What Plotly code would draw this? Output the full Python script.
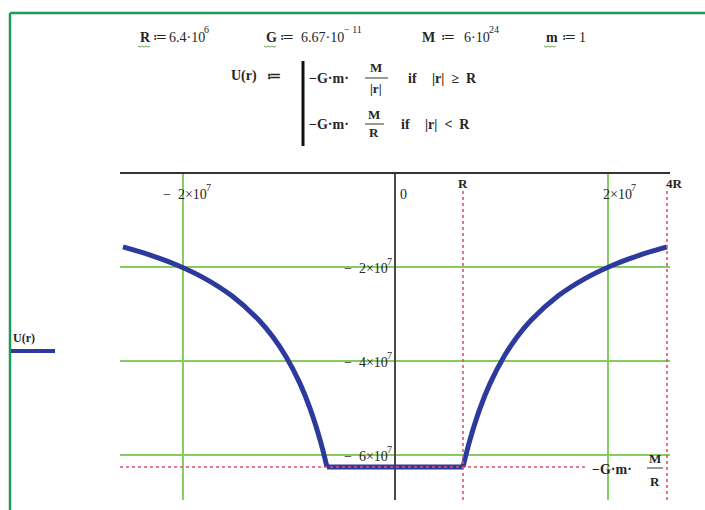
import plotly.graph_objects as go

# Constants shown in the worksheet header
R = 6.4e6
G = 6.67e-11
M = 6e24
m = 1

# Potential energy U(r): outer branches (|r| >= R) and the flat inner part
r_left = [-2.56e7, -2.304e7, -2.048e7, -1.792e7, -1.536e7, -1.28e7,
          -1.152e7, -1.024e7, -8.96e6, -8.0e6, -7.04e6, -6.4e6]
u_left = [-1.563e7, -1.737e7, -1.954e7, -2.233e7, -2.606e7, -3.127e7,
          -3.474e7, -3.908e7, -4.467e7, -5.003e7, -5.685e7, -6.253e7]
r_inner = [-6.4e6, 6.4e6]
u_inner = [-6.253e7, -6.253e7]
r_right = [6.4e6, 7.04e6, 8.0e6, 8.96e6, 1.024e7, 1.152e7,
           1.28e7, 1.536e7, 1.792e7, 2.048e7, 2.304e7, 2.56e7]
u_right = [-6.253e7, -5.685e7, -5.003e7, -4.467e7, -3.908e7, -3.474e7,
           -3.127e7, -2.606e7, -2.233e7, -1.954e7, -1.737e7, -1.563e7]

x_grid = [-2e7, 2e7]
y_grid = [-2e7, -4e7, -6e7]
x_tick_base = ["\u2212  2\u00d710", "2\u00d710"]
y_tick_base = ["\u2212  2\u00d710", "\u2212  4\u00d710", "\u2212  6\u00d710"]
tick_exp = "7"

W, H = 705, 510
SERIF = "Liberation Serif"
INK = "#262626"
CURVE = "#2b3a9c"
GRID = "#86cc62"
MARK = "#e2506e"


def px(x):
    return x / W


def py(y):
    return 1 - y / H


# plot frame (pixels)
left_px, right_px, top_px, bot_px = 120, 670, 173.5, 500
zero_px = 395
x_scale = (463 - zero_px) / R          # pixels per metre
y_scale = (467 - top_px) / 6.253e7     # pixels per joule
x_rng = [(left_px - zero_px) / x_scale, (right_px - zero_px) / x_scale]
y_rng = [-(bot_px - top_px) / y_scale, 0]

fig = go.Figure()

line_style = dict(color=CURVE, width=5)
fig.add_trace(go.Scatter(x=r_left, y=u_left, mode="lines",
                         line=dict(shape="spline", **line_style), hoverinfo="skip"))
fig.add_trace(go.Scatter(x=r_inner, y=u_inner, mode="lines",
                         line=line_style, hoverinfo="skip"))
fig.add_trace(go.Scatter(x=r_right, y=u_right, mode="lines",
                         line=dict(shape="spline", **line_style), hoverinfo="skip"))

fig.update_layout(
    width=W, height=H, margin=dict(l=0, r=0, t=0, b=0),
    paper_bgcolor="white", plot_bgcolor="white", showlegend=False,
    xaxis=dict(domain=[px(left_px), px(right_px)], range=x_rng, side="top",
               tickvals=x_grid, showticklabels=False, ticks="",
               showgrid=True, gridcolor=GRID, gridwidth=2,
               zeroline=True, zerolinecolor="#4a4a4a", zerolinewidth=1.5,
               showline=True, linecolor="#333333", linewidth=1.5),
    yaxis=dict(domain=[py(bot_px), py(top_px)], range=y_rng,
               tickvals=y_grid, showticklabels=False, ticks="",
               showgrid=True, gridcolor=GRID, gridwidth=2,
               zeroline=False, showline=False),
)

shapes = []
# dotted markers at R, 4R and at the inner level
for xv in (R, 4 * R):
    shapes.append(dict(type="line", xref="x", yref="paper", x0=xv, x1=xv,
                       y0=py(191), y1=py(bot_px),
                       line=dict(color=MARK, width=1.6, dash="dot")))
shapes.append(dict(type="line", xref="paper", yref="y", x0=px(left_px), x1=px(588),
                   y0=u_inner[0], y1=u_inner[0],
                   line=dict(color=MARK, width=1.6, dash="dot")))
# worksheet border
shapes.append(dict(type="line", xref="paper", yref="paper", x0=px(10), x1=px(10),
                   y0=py(13), y1=0, line=dict(color="#1f9a5a", width=2.5)))
shapes.append(dict(type="line", xref="paper", yref="paper", x0=px(10), x1=1,
                   y0=py(13), y1=py(13), line=dict(color="#1f9a5a", width=2.5)))
# program bracket of U(r)
shapes.append(dict(type="line", xref="paper", yref="paper", x0=px(303), x1=px(303),
                   y0=py(61), y1=py(146), line=dict(color="#111111", width=3)))
# fraction bars
for x0, x1, y in ((365, 388, 78), (365, 384, 124), (647, 663, 468)):
    shapes.append(dict(type="line", xref="paper", yref="paper", x0=px(x0), x1=px(x1),
                       y0=py(y), y1=py(y), line=dict(color="#333333", width=1)))
# legend sample line
shapes.append(dict(type="line", xref="paper", yref="paper", x0=px(11), x1=px(55),
                   y0=py(351), y1=py(351), line=dict(color=CURVE, width=4)))
# wavy underline beneath redefined names
for x0 in (138, 264, 544):
    pts = " ".join(f"L{px(x0 + i * 2)},{py(46 + (1.2 if i % 2 else 0))}" for i in range(1, 7))
    shapes.append(dict(type="path", xref="paper", yref="paper",
                       path=f"M{px(x0)},{py(46)} {pts}",
                       line=dict(color="#6aa84f", width=1)))
fig.update_layout(shapes=shapes)

ann = []


def txt(x, y, s, size=13, bold=False, xanchor="left", xref="paper", yref="paper",
        xshift=0, yshift=0):
    ann.append(dict(x=px(x) if xref == "paper" else x,
                    y=py(y) if yref == "paper" else y,
                    xref=xref, yref=yref, text=s, showarrow=False, borderpad=0,
                    xanchor=xanchor, yanchor="middle", xshift=xshift, yshift=yshift,
                    font=dict(family=SERIF, size=size, color=INK,
                              weight="bold" if bold else "normal")))


# header definitions: name, assignment sign, mantissa, exponent
txt(139, 38, "R", 14, True)
txt(152, 38, "\u2254", 14)
txt(206, 38, "6.4\u00b710", 14, xanchor="right")
txt(203, 29, "6", 10)
txt(265, 38, "G", 14, True)
txt(279, 38, "\u2254", 14)
txt(345, 38, "6.67\u00b710", 14, xanchor="right")
txt(343, 29, "\u2212 11", 10)
txt(421, 38, "M", 14, True)
txt(440, 38, "\u2254", 14)
txt(491, 38, "6\u00b710", 14, xanchor="right")
txt(488, 29, "24", 10)
txt(545, 38, "m", 14, True)
txt(561, 38, "\u2254", 14)
txt(578, 38, "1", 14)

# piecewise definition
txt(230, 76, "U(r)", 14, True)
txt(266, 76, "\u2254", 14, True)
txt(308, 78, "\u2212G\u00b7m\u00b7", 14, True)
txt(376, 68, "M", 13, True, "center")
txt(376, 88, "|r|", 13, True, "center")
txt(407, 78, "if", 14, True)
txt(431, 78, "|r|  \u2265  R", 14, True)
txt(308, 124, "\u2212G\u00b7m\u00b7", 14, True)
txt(374, 115, "M", 13, True, "center")
txt(374, 133, "R", 13, True, "center")
txt(400, 124, "if", 14, True)
txt(424, 124, "|r|  &lt;  R", 14, True)

# axis labels
for pos, base in zip(x_grid, x_tick_base):
    txt(pos, 194, base, 14, xanchor="right", xref="x", xshift=25)
    txt(pos, 187, tick_exp, 10, xref="x", xshift=22)
txt(399, 194, "0", 14)
txt(R, 183, "R", 13, True, "center", xref="x")
txt(674, 183, "4R", 13, True, "center")
for yv, base in zip(y_grid, y_tick_base):
    txt(389, yv, base, 14, xanchor="right", yref="y", yshift=-1)
    txt(386, yv, tick_exp, 10, yref="y", yshift=6)

# inner level label
txt(591, 469, "\u2212G\u00b7m\u00b7", 14, True)
txt(655, 458, "M", 13, True, "center")
txt(655, 481, "R", 13, True, "center")

# trace label
txt(12, 338, "U(r)", 12, True)

fig.update_layout(annotations=ann)
fig.write_html("out.html")
